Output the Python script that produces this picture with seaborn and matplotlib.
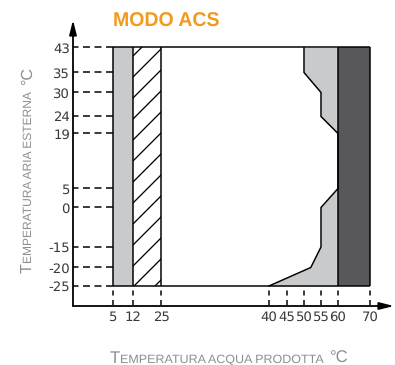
"""Operating envelope chart for DHW mode (MODO ACS)."""

import matplotlib

matplotlib.use("Agg")
import matplotlib.pyplot as plt
from matplotlib.ticker import NullLocator
import numpy as np
import seaborn as sns

DPI = 126
PX = 72 / DPI  # points per pixel

# data ----------------------------------------------------------------------
water_ticks = [5, 12, 25, 40, 45, 50, 55, 60, 70]
air_ticks = [-25, -20, -15, 0, 5, 19, 24, 30, 35, 43]
air_min, air_max = -25, 43
light_band = (5, 12)
hatch_band = (12, 25)
dark_band = (60, 70)
limit_water = [40, 52, 55, 55, 60, 60, 55, 55, 50, 50]
limit_air = [-25, -20, -15, 0, 5, 19, 24, 30, 35, 43]

# non-linear axis scales of the original drawing (value -> pixel)
scale_x_val = [-9, 5, 12, 25, 40, 45, 50, 55, 60, 70, 77.5]
scale_x_px = [73, 113, 133, 161, 269, 287, 304, 321, 338, 370, 394]
scale_y_val = [-30, -25, -20, -15, 0, 5, 19, 24, 30, 35, 43, 51.5]
scale_y_px = [306, 286, 267.5, 247, 207.5, 188.5, 133.5, 116.5, 92.5, 72.5, 47.5, 20]

LIGHT = "#c9cacc"
DARK = "#58585a"
ORANGE = "#f39a1e"
LABEL_GRAY = "#8e8e8e"
TICK_GRAY = "#3a3a3a"


def fwd_x(v):
    return np.interp(v, scale_x_val, scale_x_px)


def inv_x(p):
    return np.interp(p, scale_x_px, scale_x_val)


_ypx_neg = [-p for p in scale_y_px]


def fwd_y(v):
    return np.interp(v, scale_y_val, _ypx_neg)


def inv_y(p):
    return np.interp(p, _ypx_neg, scale_y_val)


def draw_small_caps(fig, parts, start, base, length, vertical=False):
    """Fake small caps: pieces of different size laid one after another."""
    renderer = fig.canvas.get_renderer()
    height = fig.bbox.height
    width = fig.bbox.width

    def measure(text, size):
        t = fig.text(0, 0, text, fontsize=size * PX)
        w = t.get_window_extent(renderer).width
        t.remove()
        return w

    raw = [measure(s, sz) for s, sz, _ in parts]
    gaps = [g * sz for _, sz, g in parts]
    k = length / (sum(raw) + sum(gaps))

    pos = start if not vertical else height - start
    for (text, size, _), w, g in zip(parts, raw, gaps):
        pos += g * k
        if vertical:
            fig.text(base / width, pos / height, text, fontsize=size * k * PX,
                     color=LABEL_GRAY, rotation=90, rotation_mode="anchor",
                     ha="left", va="baseline")
        else:
            fig.text(pos / width, 1 - base / height, text, fontsize=size * k * PX,
                     color=LABEL_GRAY, ha="left", va="baseline")
        pos += w * k


sns.set_theme(style="white")
plt.rcParams["font.family"] = ["Liberation Sans", "DejaVu Sans"]
plt.rcParams["lines.scale_dashes"] = False
plt.rcParams["hatch.linewidth"] = 1.3 * PX
plt.rcParams["text.hinting"] = "no_hinting"

W, H = 395, 365
fig = plt.figure(figsize=((W + 1e-3) / DPI, (H + 1e-3) / DPI), dpi=DPI)
ax = fig.add_axes([73 / W, (H - 306) / H, (394 - 73) / W, (306 - 20) / H])
ax.set_xscale("function", functions=(fwd_x, inv_x))
ax.set_yscale("function", functions=(fwd_y, inv_y))
ax.set_xlim(scale_x_val[0], scale_x_val[-1])
ax.set_ylim(scale_y_val[0], scale_y_val[-1])

lw = 1.5 * PX

# filled areas
ax.fill_betweenx([air_min, air_max], *light_band, color=LIGHT, lw=0, zorder=1)
ax.fill_betweenx([air_min, air_max], *hatch_band, facecolor="white",
                 edgecolor="black", hatch="//", lw=0, zorder=1)
ax.fill_betweenx(limit_air, limit_water, dark_band[0], color=LIGHT, lw=0, zorder=1)
ax.fill_betweenx([air_min, air_max], *dark_band, color=DARK, lw=0, zorder=1)

# outlines
ax.vlines([light_band[0], light_band[1], hatch_band[1], dark_band[0], dark_band[1]],
          air_min, air_max, colors="black", lw=lw, zorder=3)
ax.hlines([air_min, air_max], light_band[0], dark_band[1], colors="black",
          lw=lw, zorder=3)
sns.lineplot(x=limit_water, y=limit_air, sort=False, estimator=None,
             color="black", lw=lw, ax=ax, zorder=3)

# dashed guides to the axes
ax.hlines(air_ticks, light_band[0], scale_x_val[0], colors="black", lw=lw,
          linestyles=[(0, (7 * PX, 4.5 * PX))], zorder=2)
ax.vlines(water_ticks, air_min, scale_y_val[0], colors="black", lw=lw,
          linestyles=[(5 * PX, (5 * PX, 4.5 * PX))], zorder=2)

# ticks
ax.set_xticks(water_ticks, labels=[str(v) for v in water_ticks])
ax.set_yticks(air_ticks, labels=[str(v) for v in air_ticks])
ax.xaxis.set_minor_locator(NullLocator())
ax.yaxis.set_minor_locator(NullLocator())
ax.tick_params(axis="both", length=0, labelsize=13.3 * PX, labelcolor=TICK_GRAY,
               labelfontfamily=["Liberation Sans Narrow", "DejaVu Sans"])
ax.tick_params(axis="x", pad=5 * PX)
ax.tick_params(axis="y", pad=3 * PX)
ax.grid(False)
for spine in ax.spines.values():
    spine.set_visible(False)

# axes with arrow heads
arrow = dict(arrowstyle="-|>,head_length=1,head_width=0.25", mutation_scale=12 * PX,
             lw=1.8 * PX, color="black", shrinkA=0, shrinkB=0)
ax.annotate("", xy=(1, 0), xytext=(0, 0), xycoords="axes fraction",
            textcoords="axes fraction", arrowprops=arrow, annotation_clip=False)
ax.annotate("", xy=(0, 1), xytext=(0, 0), xycoords="axes fraction",
            textcoords="axes fraction", arrowprops=arrow, annotation_clip=False)

# title and axis labels
fig.text(113 / W, 1 - 27 / H, "MODO ACS", fontsize=19.5 * PX, weight="bold",
         color=ORANGE, ha="left", va="baseline")
draw_small_caps(fig, [("T", 18, 0), ("EMPERATURA ACQUA PRODOTTA", 13.5, 0),
                      ("°C", 18, 0.35)], start=110, base=363, length=238)
draw_small_caps(fig, [("T", 18, 0), ("EMPERATURA ARIA ESTERNA", 13.5, 0),
                      ("°C", 18, 0.35)], start=273, base=32, length=206,
                vertical=True)

fig.savefig("out.png", dpi=DPI)
plt.close(fig)
